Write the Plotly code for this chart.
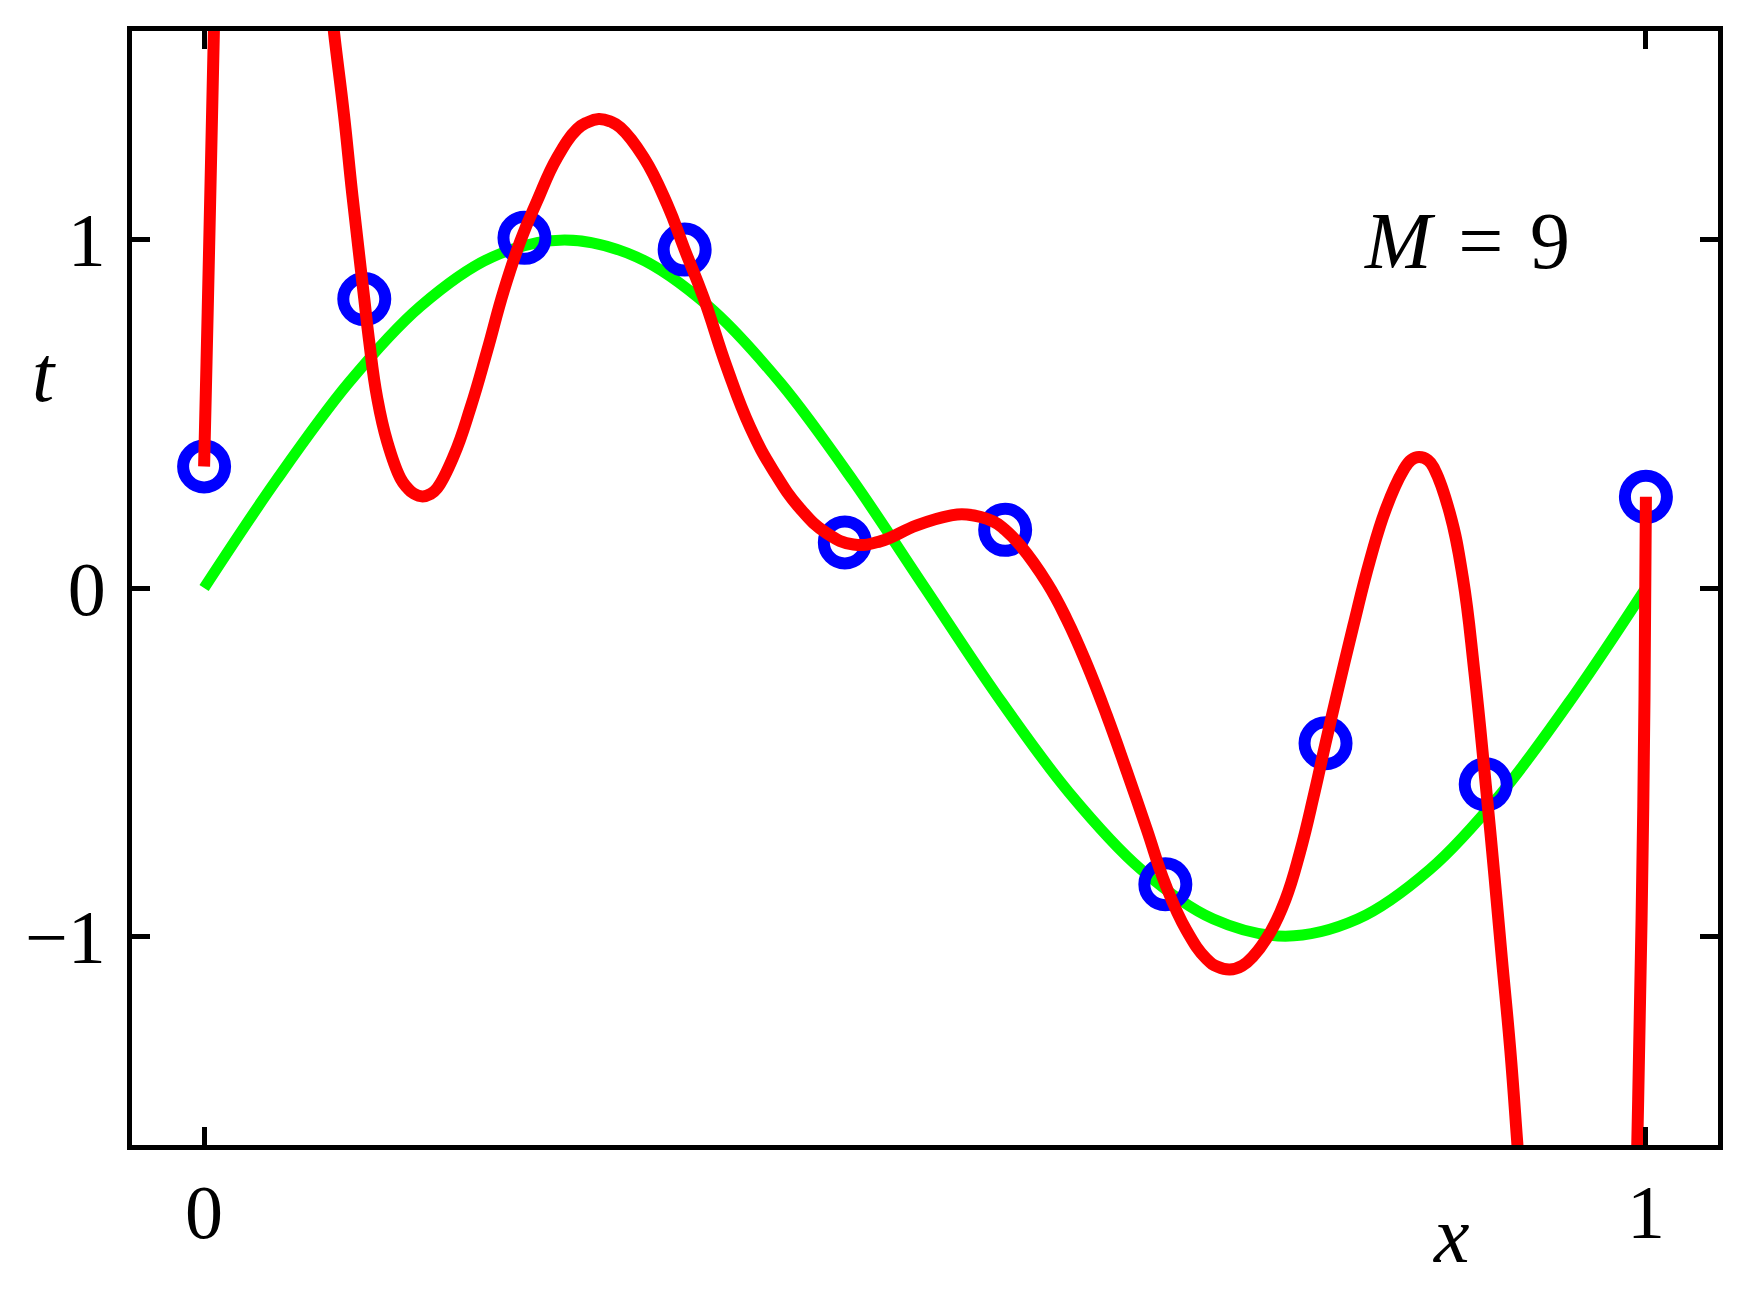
#!/usr/bin/env python3
"""
Polynomial curve fitting, M = 9: the fit goes through every training point
but swings wildly in between (sin(2*pi*x) shown in green).
"""
import plotly.graph_objects as go

# training data (blue circles)
x_points = [0.0, 0.1111, 0.2222, 0.3333, 0.4444, 0.5556, 0.6667, 0.7778, 0.8889, 1.0]
t_points = [0.349, 0.830, 1.006, 0.972, 0.131, 0.167, -0.851, -0.446, -0.564, 0.262]

# underlying curve (green)
x_true = [0.0, 0.05, 0.1, 0.15, 0.2, 0.25, 0.3, 0.35, 0.4, 0.45, 0.5,
          0.55, 0.6, 0.65, 0.7, 0.75, 0.8, 0.85, 0.9, 0.95, 1.0]
t_true = [0.0, 0.309, 0.588, 0.809, 0.951, 1.0, 0.951, 0.809, 0.588, 0.309, 0.0,
          -0.309, -0.588, -0.809, -0.951, -1.0, -0.951, -0.809, -0.588, -0.309, 0.0]

# M = 9 fit (red), three visible pieces
x_fit_left = [0.0, 0.0017, 0.0035, 0.0068, 0.0078]
t_fit_left = [0.349, 0.650, 0.980, 1.600, 1.800]

x_fit_mid = [0.0848, 0.0900, 0.0970, 0.1028, 0.1111, 0.1143, 0.1201, 0.1270, 0.1362,
             0.1409, 0.1455, 0.1515, 0.1570, 0.1617, 0.1732, 0.1848, 0.1963, 0.2078,
             0.2194, 0.2310, 0.2448, 0.2587, 0.2656, 0.2737, 0.2818, 0.2887, 0.3049,
             0.3211, 0.3333, 0.3464, 0.3626, 0.3788, 0.3950, 0.4134, 0.4320, 0.4504,
             0.4689, 0.4943, 0.5174, 0.5290, 0.5474, 0.5556, 0.5659, 0.5844, 0.5983,
             0.6121, 0.6260, 0.6398, 0.6537, 0.6667, 0.6814, 0.6953, 0.7030, 0.7114,
             0.7200, 0.7276, 0.7400, 0.7500, 0.7600, 0.7700, 0.7778, 0.7860, 0.7970,
             0.8085, 0.8200, 0.8315, 0.8373, 0.8426, 0.8489, 0.8535, 0.8640, 0.8730,
             0.8810, 0.8889, 0.8950, 0.9000, 0.9060, 0.9109, 0.9145]
t_fit_mid = [1.800, 1.600, 1.360, 1.130, 0.830, 0.715, 0.545, 0.420, 0.315,
             0.288, 0.271, 0.263, 0.270, 0.287, 0.380, 0.518, 0.681, 0.853,
             0.997, 1.112, 1.236, 1.318, 1.337, 1.347, 1.340, 1.323, 1.237,
             1.103, 0.972, 0.834, 0.633, 0.461, 0.336, 0.228, 0.157, 0.125,
             0.134, 0.180, 0.208, 0.211, 0.191, 0.167, 0.123, 0.016, -0.090,
             -0.218, -0.365, -0.525, -0.692, -0.851, -0.984, -1.066, -1.088, -1.096,
             -1.085, -1.058, -0.985, -0.895, -0.760, -0.590, -0.446, -0.300, -0.110,
             0.078, 0.231, 0.336, 0.368, 0.376, 0.367, 0.340, 0.215, 0.030,
             -0.240, -0.564, -0.830, -1.060, -1.330, -1.600, -1.800]

x_fit_right = [0.9930, 0.9940, 0.9970, 0.9990, 1.0]
t_fit_right = [-1.800, -1.600, -0.950, -0.320, 0.262]

x_ticks = [0, 1]
t_ticks = [-1, 0, 1]

FONT = "Liberation Serif"
RED = "rgb(255,0,0)"

fig = go.Figure()

fig.add_trace(go.Scatter(
    x=x_true, y=t_true, mode="lines",
    line=dict(color="rgb(0,255,0)", width=11, shape="spline", smoothing=1.0, simplify=False),
    showlegend=False, hoverinfo="skip"))

fig.add_trace(go.Scatter(
    x=x_points, y=t_points, mode="markers",
    marker=dict(symbol="circle-open", size=42, color="rgb(0,0,255)",
                line=dict(color="rgb(0,0,255)", width=12)),
    showlegend=False))

for xs, ts in [(x_fit_left, t_fit_left), (x_fit_mid, t_fit_mid), (x_fit_right, t_fit_right)]:
    fig.add_trace(go.Scatter(
        x=xs, y=ts, mode="lines",
        line=dict(color=RED, width=12, shape="spline", smoothing=1.3, simplify=False),
        showlegend=False, hoverinfo="skip"))

axis_style = dict(
    showgrid=False, zeroline=False,
    showline=True, linecolor="black", linewidth=5, mirror="ticks",
    ticks="inside", ticklen=18, tickwidth=5, tickcolor="black",
    tickfont=dict(family=FONT, size=76, color="black"),
)

fig.update_xaxes(range=[-0.05, 1.05], tickvals=x_ticks,
                 ticktext=[str(v) for v in x_ticks], ticklabelstandoff=-3, **axis_style)
fig.update_yaxes(range=[-1.6, 1.6], tickvals=t_ticks,
                 ticktext=["\u22121", "0", "1"], ticklabelstandoff=6, **axis_style)

# labels
fig.add_annotation(x=0.876, y=0.997, xref="x", yref="y", showarrow=False,
                   text="<i>M</i>\u2004=\u20049", font=dict(family=FONT, size=80, color="black"))
fig.add_annotation(x=0.845, y=-0.122, xref="paper", yref="paper", showarrow=False,
                   text="<i>x</i>", font=dict(family=FONT, size=80, color="black"))
fig.add_annotation(x=-0.064, y=0.733, xref="paper", yref="paper", showarrow=False,
                   text="<i>t</i>", font=dict(family=FONT, size=80, color="black"))

fig.update_layout(
    width=1750, height=1300,
    margin=dict(l=124, r=40, t=23, b=163),
    paper_bgcolor="white", plot_bgcolor="white",
)

fig.write_html("out.html")
